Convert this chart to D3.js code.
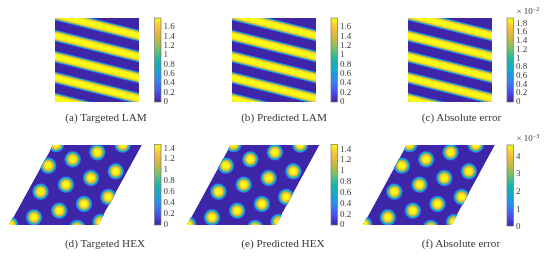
<!DOCTYPE html>
<html>
<head>
<meta charset="utf-8">
<script src="https://cdn.jsdelivr.net/npm/d3@7"></script>
<style>
html, body { margin: 0; padding: 0; background: #fff; }
text { font-family: "Liberation Serif", serif; fill: #3a3a3a; }
</style>
</head>
<body>
<div id="figure"></div>
<script>
// LAM stripes: height of each stripe centre on the left and right panel edge (0 = top, 1 = bottom)
var stripeLeft = [-0.04, 0.21, 0.46, 0.71, 0.96];
var stripeRight = [0.21, 0.46, 0.71, 0.96, 1.21];

// HEX dots: centre in cell coordinates (u along the base, v up the slanted side)
var dotU = [0.029, 0.543, 0.781, 0.31, 0.075, 0.867, 0.631, 0.391, 0.15, 0.943, 0.713, 0.476, 0.234, 1.011, 0.786, 0.011];
var dotV = [1.01, 0.909, 1.004, 0.821, 0.741, 0.671, 0.5875, 0.504, 0.416, 0.35, 0.2625, 0.179, 0.096, 0.0375, -0.0375, 0.004];

// how high the field is (fraction of the colour range) going in from the edge of a stripe or dot
var profileLevel = [0.08, 0.18, 0.28, 0.38, 0.48, 0.58, 0.68, 0.78, 0.88, 0.96, 1];
var stripeWidth = [11.4, 10.9, 10.4, 9.9, 9.4, 8.9, 8.4, 7.8, 7, 5.8, 4.2];
var dotRadius = [8.4, 8, 7.6, 7.2, 6.7, 6.2, 5.7, 5.2, 4.5, 3.6, 2.6];

// colorbar ticks
var lamTicks = [0, 0.2, 0.4, 0.6, 0.8, 1, 1.2, 1.4, 1.6];
var lamErrTicks = [0, 0.2, 0.4, 0.6, 0.8, 1, 1.2, 1.4, 1.6, 1.8];
var hexTicks = [0, 0.2, 0.4, 0.6, 0.8, 1, 1.2, 1.4];
var hexErrTicks = [0, 1, 2, 3, 4];

// parula
var parulaAt = [0, 0.125, 0.25, 0.375, 0.5, 0.625, 0.75, 0.875, 1];
var parulaColors = ["#3e26a8", "#4751f0", "#2f87f5", "#13a6d6", "#1cb5a6", "#6cc26c", "#c9b93f", "#fbbc3c", "#f9fb15"];
var parula = d3.scaleLinear().domain(parulaAt).range(parulaColors).interpolate(d3.interpolateRgb);

var width = 550, height = 256;

var svg = d3.select("#figure").append("svg")
    .attr("width", width)
    .attr("height", height)
    .style("display", "block");

var defs = svg.append("defs");

// the reference is a soft upscaled scan, everything gets a touch of blur
defs.append("filter")
    .attr("id", "soft")
    .attr("filterUnits", "userSpaceOnUse")
    .attr("x", 0).attr("y", 0).attr("width", width).attr("height", height)
    .append("feGaussianBlur").attr("stdDeviation", 0.45);

var gradient = defs.append("linearGradient")
    .attr("id", "parula")
    .attr("x1", 0).attr("y1", 1).attr("x2", 0).attr("y2", 0);
parulaAt.forEach(function(t, i) {
    gradient.append("stop").attr("offset", t).attr("stop-color", parulaColors[i]);
});

var page = svg.append("g").attr("filter", "url(#soft)");

function drawColorbar(opts) {
    var y = d3.scaleLinear().domain(opts.domain).range([opts.y1, opts.y0]);
    page.append("rect")
        .attr("x", opts.x)
        .attr("y", opts.y0)
        .attr("width", opts.w)
        .attr("height", opts.y1 - opts.y0)
        .attr("fill", "url(#parula)")
        .attr("stroke", "#777")
        .attr("stroke-width", 0.7);

    var axis = d3.axisRight(y)
        .tickValues(opts.ticks)
        .tickFormat(function(d) { return d; })
        .tickSize(0)
        .tickPadding(2.5);

    var g = page.append("g")
        .attr("transform", "translate(" + (opts.x + opts.w) + ",0)")
        .call(axis);
    g.select(".domain").remove();
    g.selectAll("text").style("font-family", null).attr("font-size", 9).attr("fill", "#3a3a3a");

    if (opts.power) {
        var t = page.append("text")
            .attr("x", opts.x + 9.5)
            .attr("y", opts.y0 - 4)
            .attr("font-size", 9);
        t.append("tspan").text("\u00d7 10");
        t.append("tspan").attr("dy", -3).attr("font-size", 6).text("\u2212" + opts.power);
    }
}

function drawLam(id, x0, y0, size) {
    var x = d3.scaleLinear().domain([0, 1]).range([x0, x0 + size]);
    var y = d3.scaleLinear().domain([0, 1]).range([y0, y0 + size]);

    defs.append("clipPath").attr("id", id)
        .append("rect")
        .attr("x", x(0)).attr("y", y(0))
        .attr("width", x(1) - x(0)).attr("height", y(1) - y(0));

    var g = page.append("g").attr("clip-path", "url(#" + id + ")");
    g.append("rect")
        .attr("x", x(0)).attr("y", y(0))
        .attr("width", x(1) - x(0)).attr("height", y(1) - y(0))
        .attr("fill", parula(0));

    // each stripe is a stack of narrowing strokes
    profileLevel.forEach(function(level, i) {
        g.selectAll(null)
            .data(stripeLeft)
            .enter()
            .append("line")
            .attr("x1", x(0))
            .attr("x2", x(1))
            .attr("y1", function(d) { return y(d); })
            .attr("y2", function(d, j) { return y(stripeRight[j]); })
            .attr("stroke", parula(level))
            .attr("stroke-width", stripeWidth[i])
            .attr("stroke-linecap", "square");
    });
}

function drawHex(id, opts) {
    // cell coordinates to page: x also shifts with v because of the slant
    var x = d3.scaleLinear().domain([0, 1]).range([opts.xl, opts.xl + opts.base]);
    var skew = d3.scaleLinear().domain([0, 1]).range([0, opts.slant]);
    var y = d3.scaleLinear().domain([0, 1]).range([opts.y1, opts.y0]);

    var corners = [[0, 0], [1, 0], [1, 1], [0, 1]].map(function(c) {
        return [x(c[0]) + skew(c[1]), y(c[1])];
    });

    defs.append("clipPath").attr("id", id)
        .append("polygon").attr("points", corners.join(" "));

    var g = page.append("g").attr("clip-path", "url(#" + id + ")");
    g.append("polygon").attr("points", corners.join(" ")).attr("fill", parula(0));

    profileLevel.forEach(function(level, i) {
        g.selectAll(null)
            .data(dotU)
            .enter()
            .append("circle")
            .attr("cx", function(d, j) { return x(d) + skew(dotV[j]); })
            .attr("cy", function(d, j) { return y(dotV[j]); })
            .attr("r", dotRadius[i])
            .attr("fill", parula(level));
    });
}

function caption(label, cx, baseline) {
    page.append("text")
        .attr("x", cx)
        .attr("y", baseline)
        .attr("text-anchor", "middle")
        .attr("font-size", 11.2)
        .text(label);
}

// top row
drawLam("lam-a", 55, 18, 84);
drawColorbar({x: 154.5, w: 6.5, y0: 18, y1: 102, domain: [-0.03, 1.77], ticks: lamTicks});
caption("(a) Targeted LAM", 106, 121);

drawLam("lam-b", 232, 18, 84);
drawColorbar({x: 331, w: 6.5, y0: 18, y1: 102, domain: [-0.03, 1.77], ticks: lamTicks});
caption("(b) Predicted LAM", 284, 121);

drawLam("lam-c", 408, 18, 84);
drawColorbar({x: 507, w: 6.5, y0: 18, y1: 102, domain: [-0.03, 1.9], ticks: lamErrTicks, power: "2"});
caption("(c) Absolute error", 461.5, 121);

// bottom row
drawHex("hex-d", {xl: 9, base: 89, slant: 44, y0: 145, y1: 225});
drawColorbar({x: 154.5, w: 6.5, y0: 144.5, y1: 225, domain: [-0.03, 1.45], ticks: hexTicks});
caption("(d) Targeted HEX", 105, 247);

drawHex("hex-e", {xl: 187, base: 89, slant: 43.5, y0: 145, y1: 225});
drawColorbar({x: 331, w: 6.5, y0: 144.5, y1: 225, domain: [-0.02, 1.47], ticks: hexTicks});
caption("(e) Predicted HEX", 283, 247);

drawHex("hex-f", {xl: 363, base: 88.5, slant: 43.5, y0: 145, y1: 225});
drawColorbar({x: 507, w: 6.5, y0: 145, y1: 226, domain: [-0.02, 4.6], ticks: hexErrTicks, power: "3"});
caption("(f) Absolute error", 461, 247);
</script>
</body>
</html>
